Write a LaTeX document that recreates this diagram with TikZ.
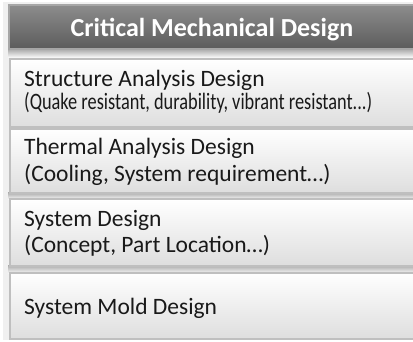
\documentclass[tikz,border=0pt]{standalone}
\usepackage{fontspec}
\setmainfont{Carlito}
\begin{document}
\begin{tikzpicture}[x=1pt,y=-1pt,
  titlebox/.style={draw=black!35, line width=1.5pt, top color=black!45, bottom color=black!64},
  itembox/.style={draw=black!25, line width=1.5pt, top color=white, bottom color=black!13},
  shadowstrip/.style={top color=black!30, bottom color=white, draw=none},
  itemtext/.style={anchor=base west, align=left, font=\fontsize{23.5}{26}\selectfont, text=black!90, inner sep=0pt}
]
\useasboundingbox[fill=white] (0,0) rectangle (413,342);
\fill[black!6] (3,2) rectangle (413,340);
% title
\fill[shadowstrip] (8,50) rectangle (413,58);
\path[titlebox] (9,5) rectangle (414,49);
\node[font=\fontsize{26}{28}\selectfont\bfseries, text=white, anchor=base, inner sep=0pt] (title) at (212,37) {Critical Mechanical Design};
% shadows between boxes
\fill[shadowstrip] (8,193) rectangle (413,200);
\fill[shadowstrip] (8,266) rectangle (413,274);
% boxes
\path[itembox] (10,59) rectangle (414,127);
\path[itembox] (10,129) rectangle (414,193);
\path[itembox] (10,199) rectangle (414,266);
\path[itembox] (10,273) rectangle (414,339);
\node[itemtext] (t1a) at (24,87) {Structure Analysis Design};
\node[itemtext] (t1b) at (24,110) {\resizebox{348pt}{\height}{(Quake resistant, durability, vibrant resistant...)}};
\node[itemtext] (t2a) at (24,155) {Thermal Analysis Design};
\node[itemtext] (t2b) at (24,182) {(Cooling, System requirement…)};
\node[itemtext] (t3a) at (24,227) {System Design};
\node[itemtext] (t3b) at (24,253) {(Concept, Part Location…)};
\node[itemtext] (t4) at (24,315) {System Mold Design};
\end{tikzpicture}
\end{document}
